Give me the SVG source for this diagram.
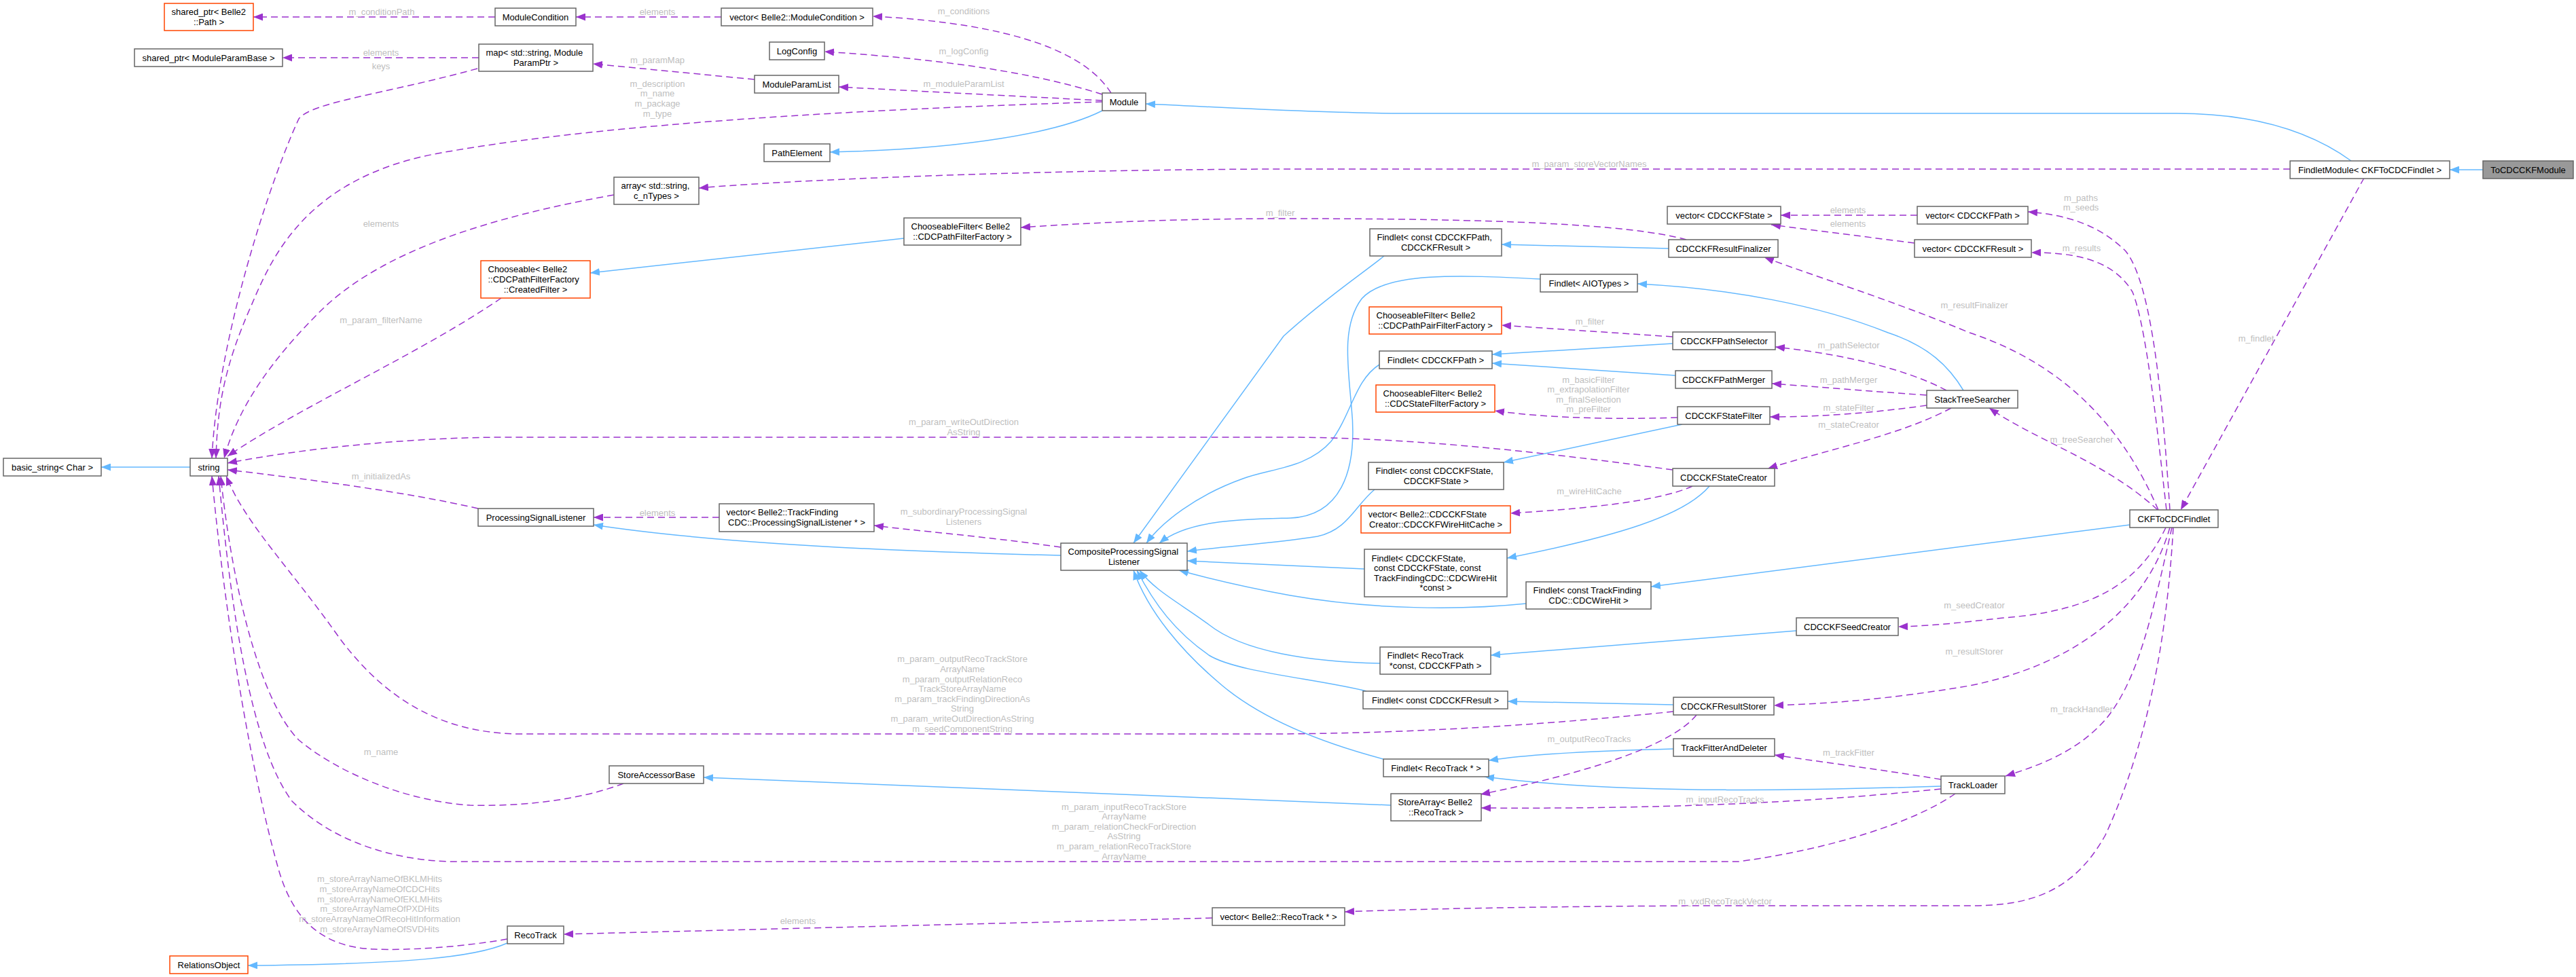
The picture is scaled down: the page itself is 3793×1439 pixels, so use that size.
<svg xmlns="http://www.w3.org/2000/svg" width="3793" height="1439" viewBox="0 0 3793 1439">
<style>
.node rect{fill:#fff;stroke:#666;stroke-width:1.5}
.node.o rect{stroke:#FF4500}
.node.g rect{fill:#999}
.node text{font-family:"Liberation Sans",Arial,Helvetica,sans-serif;font-size:13px;fill:#000}
.m{text-anchor:middle}
.s{text-anchor:start}
.inh{fill:none;stroke:#63B8FF;stroke-width:1.5;marker-end:url(#ab)}
.use{fill:none;stroke:#9A32CD;stroke-width:1.5;stroke-dasharray:10,6;marker-end:url(#ap)}
.lbl text{font-family:"Liberation Sans",Arial,Helvetica,sans-serif;font-size:13px;fill:#BEBEBE;text-anchor:middle}
</style>
<defs>
<marker id="ab" markerUnits="userSpaceOnUse" markerWidth="14" markerHeight="11" refX="14" refY="5.5" orient="auto" viewBox="0 0 14 11"><path d="M0,0 L14,5.5 L0,11 z" fill="#63B8FF"/></marker>
<marker id="ap" markerUnits="userSpaceOnUse" markerWidth="14" markerHeight="11" refX="14" refY="5.5" orient="auto" viewBox="0 0 14 11"><path d="M0,0 L14,5.5 L0,11 z" fill="#9A32CD"/></marker>
</defs>
<rect width="3793" height="1439" fill="#fff"/>
<g id="connectors">
<!-- inheritance -->
<path class="inh" d="M3656,250 L3607,250"/>
<path class="inh" d="M3462,237 C3390,185 3300,167 3205,167 L2064,167 C1950,167 1800,158 1687,153"/>
<path class="inh" d="M1623,163 C1560,195 1420,220 1222,224"/>
<path class="inh" d="M280,688 L149,688"/>
<path class="inh" d="M1331,351 L869,402"/>
<path class="inh" d="M1562,818 C1300,812 1050,800 874,773"/>
<path class="inh" d="M2048,1186 L1036,1145"/>
<path class="inh" d="M747,1389 C700,1410 600,1420 365,1422"/>
<path class="inh" d="M2038,377 C2010,400 1950,440 1890,495 L1669,800"/>
<path class="inh" d="M2457,366 L2211,360"/>
<path class="inh" d="M2268,411 C2150,405 2040,400 2005,440 C1975,480 1985,540 1990,600 C2000,700 1970,760 1900,763 C1830,765 1750,765 1707,800"/>
<path class="inh" d="M2031,537 C1995,560 1990,610 1960,650 C1925,690 1870,690 1830,705 C1760,730 1710,770 1688,800"/>
<path class="inh" d="M2024,721 C1995,745 1985,780 1940,790 C1880,800 1800,805 1748,812"/>
<path class="inh" d="M2009,838 C1900,833 1820,829 1748,826"/>
<path class="inh" d="M2247,889 C2150,899 2020,898 1900,877 C1840,866 1780,852 1736,840"/>
<path class="inh" d="M2032,977 C1930,975 1830,960 1780,920 C1740,890 1700,870 1678,840"/>
<path class="inh" d="M2012,1018 C1940,1000 1820,990 1780,965 C1730,930 1700,890 1674,840"/>
<path class="inh" d="M2037,1118 C1950,1095 1860,1060 1800,1010 C1740,960 1690,900 1669,840"/>
<path class="inh" d="M2463,506 L2197,522"/>
<path class="inh" d="M2467,553 L2197,535"/>
<path class="inh" d="M2477,625 L2214,681"/>
<path class="inh" d="M2517,716 C2480,760 2380,790 2219,822"/>
<path class="inh" d="M2891,575 C2870,540 2840,510 2780,490 C2680,450 2550,425 2411,418"/>
<path class="inh" d="M3136,773 L2431,864"/>
<path class="inh" d="M2645,929 L2195,965"/>
<path class="inh" d="M2464,1038 L2220,1033"/>
<path class="inh" d="M2464,1103 C2350,1106 2260,1110 2192,1120"/>
<path class="inh" d="M2858,1158 C2700,1163 2400,1172 2186,1144"/>
<!-- usage -->
<path class="use" d="M729,25 L373,25"/>
<path class="use" d="M1062,25 L848,25"/>
<path class="use" d="M1636,137 C1600,80 1500,35 1285,24"/>
<path class="use" d="M1623,139 C1500,100 1350,85 1214,76"/>
<path class="use" d="M1623,148 C1500,142 1350,134 1235,128"/>
<path class="use" d="M1111,117 L873,94"/>
<path class="use" d="M705,85 L416,85"/>
<path class="use" d="M703,101 C560,140 460,150 440,175 C400,260 320,500 312,675"/>
<path class="use" d="M1623,150 C1300,160 900,180 650,225 C450,260 400,380 370,450 C330,540 320,600 318,675"/>
<path class="use" d="M904,287 C720,320 560,370 470,460 C400,530 350,600 330,675"/>
<path class="use" d="M2483,353 C2400,330 2200,322 1900,322 C1700,322 1580,330 1503,335"/>
<path class="use" d="M738,439 C620,520 440,600 335,672"/>
<path class="use" d="M3372,249 L1900,249 C1600,249 1200,262 1029,277"/>
<path class="use" d="M3481,262 L3211,751"/>
<path class="use" d="M3195,751 C3185,600 3170,420 3130,370 C3090,330 3040,316 2986,312"/>
<path class="use" d="M3190,751 C3175,620 3160,480 3140,430 C3110,380 3050,372 2991,372"/>
<path class="use" d="M2823,317 L2622,317"/>
<path class="use" d="M2819,358 L2608,331"/>
<path class="use" d="M3178,751 C3130,640 3050,540 2900,490 C2780,440 2680,410 2598,379"/>
<path class="use" d="M3177,751 C3100,680 3000,650 2929,601"/>
<path class="use" d="M2866,575 C2800,540 2700,520 2614,511"/>
<path class="use" d="M2837,582 C2750,576 2680,570 2609,565"/>
<path class="use" d="M2837,597 C2760,608 2680,614 2606,614"/>
<path class="use" d="M2873,601 C2800,640 2700,660 2603,690"/>
<path class="use" d="M2463,496 L2211,479"/>
<path class="use" d="M2470,615 C2380,618 2280,616 2201,605"/>
<path class="use" d="M2492,716 C2440,740 2320,750 2224,756"/>
<path class="use" d="M2463,692 C2300,670 2100,645 1900,644 L735,644 C600,645 450,660 335,682"/>
<path class="use" d="M704,749 C600,725 450,705 335,692"/>
<path class="use" d="M1059,762 L874,762"/>
<path class="use" d="M1562,806 C1450,790 1350,782 1287,774"/>
<path class="use" d="M3189,777 C3150,860 3080,900 2950,910 C2880,918 2840,922 2795,923"/>
<path class="use" d="M3195,777 C3160,900 3050,980 2900,1010 C2780,1030 2700,1036 2612,1039"/>
<path class="use" d="M3198,777 C3170,900 3150,1000 3100,1060 C3060,1105 3010,1125 2953,1143"/>
<path class="use" d="M3200,777 C3190,950 3160,1100 3100,1230 C3050,1320 2980,1334 2900,1334 L2500,1334 C2300,1335 2100,1338 1980,1343"/>
<path class="use" d="M2464,1048 C2300,1065 2100,1080 1880,1081 L765,1081 C640,1080 560,1020 500,940 C430,840 360,770 333,701"/>
<path class="use" d="M2498,1053 C2460,1100 2330,1140 2180,1170"/>
<path class="use" d="M2858,1148 C2780,1135 2700,1125 2613,1112"/>
<path class="use" d="M2858,1162 C2700,1178 2500,1192 2181,1190"/>
<path class="use" d="M2879,1169 C2820,1210 2700,1250 2560,1269 L660,1269 C560,1265 480,1230 430,1180 C370,1100 340,900 322,701"/>
<path class="use" d="M918,1154 C850,1180 760,1188 692,1186 C600,1180 500,1140 440,1090 C380,1030 340,850 325,701"/>
<path class="use" d="M747,1383 C680,1395 600,1400 551,1398 C470,1395 430,1350 410,1280 C370,1140 330,900 312,701"/>
<path class="use" d="M1785,1352 L830,1376"/>
<g class="lbl">
<text x="562" y="21.5">m_conditionPath</text>
<text x="968" y="21.5">elements</text>
<text x="1419" y="20.5">m_conditions</text>
<text x="1419" y="79.5">m_logConfig</text>
<text x="1419" y="127.5">m_moduleParamList</text>
<text x="968" y="92.5">m_paramMap</text>
<text x="561" y="81.5">elements</text>
<text x="561" y="101.5">keys</text>
<text x="968" y="127.5">m_description</text>
<text x="968" y="141.5">m_name</text>
<text x="968" y="156.5">m_package</text>
<text x="968" y="171.5">m_type</text>
<text x="561" y="333.5">elements</text>
<text x="1885" y="317.5">m_filter</text>
<text x="561" y="475.5">m_param_filterName</text>
<text x="2340" y="245.5">m_param_storeVectorNames</text>
<text x="3322" y="502.5">m_findlet</text>
<text x="3064" y="295.5">m_paths</text>
<text x="3064" y="309.5">m_seeds</text>
<text x="3065" y="369.5">m_results</text>
<text x="2721" y="313.5">elements</text>
<text x="2721" y="333.5">elements</text>
<text x="2907" y="453.5">m_resultFinalizer</text>
<text x="3065" y="651.5">m_treeSearcher</text>
<text x="2722" y="512.5">m_pathSelector</text>
<text x="2722" y="563.5">m_pathMerger</text>
<text x="2722" y="604.5">m_stateFilter</text>
<text x="2722" y="629.5">m_stateCreator</text>
<text x="2341" y="477.5">m_filter</text>
<text x="2339" y="563.5">m_basicFilter</text>
<text x="2339" y="577.5">m_extrapolationFilter</text>
<text x="2339" y="592.5">m_finalSelection</text>
<text x="2339" y="606.5">m_preFilter</text>
<text x="2340" y="727.5">m_wireHitCache</text>
<text x="1419" y="625.5">m_param_writeOutDirection</text>
<text x="1419" y="640.5">AsString</text>
<text x="561" y="705.5">m_initializedAs</text>
<text x="968" y="759.5">elements</text>
<text x="1419" y="757.5">m_subordinaryProcessingSignal</text>
<text x="1419" y="772.5">Listeners</text>
<text x="2907" y="895.5">m_seedCreator</text>
<text x="2907" y="963.5">m_resultStorer</text>
<text x="3065" y="1048.5">m_trackHandler</text>
<text x="2540" y="1331.5">m_vxdRecoTrackVector</text>
<text x="1417" y="974.5">m_param_outputRecoTrackStore</text>
<text x="1417" y="989.5">ArrayName</text>
<text x="1417" y="1004.5">m_param_outputRelationReco</text>
<text x="1417" y="1018.5">TrackStoreArrayName</text>
<text x="1417" y="1033.5">m_param_trackFindingDirectionAs</text>
<text x="1417" y="1047.5">String</text>
<text x="1417" y="1062.5">m_param_writeOutDirectionAsString</text>
<text x="1417" y="1077.5">m_seedComponentString</text>
<text x="2340" y="1092.5">m_outputRecoTracks</text>
<text x="2722" y="1112.5">m_trackFitter</text>
<text x="2540" y="1181.5">m_inputRecoTracks</text>
<text x="1655" y="1192.5">m_param_inputRecoTrackStore</text>
<text x="1655" y="1206.5">ArrayName</text>
<text x="1655" y="1221.5">m_param_relationCheckForDirection</text>
<text x="1655" y="1235.5">AsString</text>
<text x="1655" y="1250.5">m_param_relationRecoTrackStore</text>
<text x="1655" y="1265.5">ArrayName</text>
<text x="561" y="1111.5">m_name</text>
<text x="559" y="1298.5">m_storeArrayNameOfBKLMHits</text>
<text x="559" y="1313.5">m_storeArrayNameOfCDCHits</text>
<text x="559" y="1328.5">m_storeArrayNameOfEKLMHits</text>
<text x="559" y="1342.5">m_storeArrayNameOfPXDHits</text>
<text x="559" y="1357.5">m_storeArrayNameOfRecoHitInformation</text>
<text x="559" y="1372.5">m_storeArrayNameOfSVDHits</text>
<text x="1175" y="1360.5">elements</text>
</g>
</g>
<g id="n_sp_path" class="node o"><rect x="242" y="5" width="131" height="40"/><text class="s" x="252.5" y="22.2">shared_ptr&lt; Belle2</text><text class="m" x="307.5" y="36.8">::Path &gt;</text></g>
<g id="n_modcond" class="node"><rect x="729" y="12" width="119" height="26"/><text class="m" x="788.5" y="29.5">ModuleCondition</text></g>
<g id="n_sp_mpb" class="node"><rect x="198" y="72" width="218" height="26"/><text class="m" x="307" y="89.5">shared_ptr&lt; ModuleParamBase &gt;</text></g>
<g id="n_map" class="node"><rect x="705" y="65" width="168" height="40"/><text class="s" x="715.5" y="82.2">map&lt; std::string, Module</text><text class="m" x="789" y="96.8">ParamPtr &gt;</text></g>
<g id="n_vecmodcond" class="node"><rect x="1062" y="12" width="223" height="26"/><text class="m" x="1173.5" y="29.5">vector&lt; Belle2::ModuleCondition &gt;</text></g>
<g id="n_logconfig" class="node"><rect x="1133" y="62" width="81" height="26"/><text class="m" x="1173.5" y="79.5">LogConfig</text></g>
<g id="n_mpl" class="node"><rect x="1111" y="111" width="124" height="26"/><text class="m" x="1173" y="128.5">ModuleParamList</text></g>
<g id="n_module" class="node"><rect x="1623" y="137" width="64" height="26"/><text class="m" x="1655" y="154.5">Module</text></g>
<g id="n_pathelement" class="node"><rect x="1125" y="212" width="97" height="26"/><text class="m" x="1173.5" y="229.5">PathElement</text></g>
<g id="n_array" class="node"><rect x="904" y="261" width="125" height="40"/><text class="s" x="914.5" y="278.2">array&lt; std::string,</text><text class="m" x="966.5" y="292.8">c_nTypes &gt;</text></g>
<g id="n_chooseable" class="node o"><rect x="708" y="384" width="161" height="55"/><text class="s" x="718.5" y="401.4">Chooseable&lt; Belle2</text><text class="s" x="718.5" y="416">::CDCPathFilterFactory</text><text class="m" x="788.5" y="430.6">::CreatedFilter &gt;</text></g>
<g id="n_cf_path" class="node"><rect x="1331" y="321" width="172" height="40"/><text class="s" x="1341.5" y="338.2">ChooseableFilter&lt; Belle2</text><text class="m" x="1417" y="352.8">::CDCPathFilterFactory &gt;</text></g>
<g id="n_basic_string" class="node"><rect x="5" y="675" width="144" height="26"/><text class="m" x="77" y="692.5">basic_string&lt; Char &gt;</text></g>
<g id="n_string" class="node"><rect x="280" y="675" width="55" height="26"/><text class="m" x="307.5" y="692.5">string</text></g>
<g id="n_psl" class="node"><rect x="704" y="749" width="170" height="26"/><text class="m" x="789" y="766.5">ProcessingSignalListener</text></g>
<g id="n_vecpsl" class="node"><rect x="1059" y="742" width="228" height="41"/><text class="s" x="1069.5" y="759.2">vector&lt; Belle2::TrackFinding</text><text class="m" x="1173" y="773.8">CDC::ProcessingSignalListener * &gt;</text></g>
<g id="n_composite" class="node"><rect x="1562" y="800" width="186" height="40"/><text class="s" x="1572.5" y="817.2">CompositeProcessingSignal</text><text class="m" x="1655" y="831.8">Listener</text></g>
<g id="n_storeaccessor" class="node"><rect x="897" y="1128" width="139" height="26"/><text class="m" x="966.5" y="1145.5">StoreAccessorBase</text></g>
<g id="n_recotrack" class="node"><rect x="747" y="1364" width="83" height="26"/><text class="m" x="788.5" y="1381.5">RecoTrack</text></g>
<g id="n_relations" class="node o"><rect x="250" y="1408" width="115" height="26"/><text class="m" x="307.5" y="1425.5">RelationsObject</text></g>
<g id="n_vecreco" class="node"><rect x="1785" y="1337" width="195" height="26"/><text class="m" x="1882.5" y="1354.5">vector&lt; Belle2::RecoTrack * &gt;</text></g>
<g id="n_findlet_path_result" class="node"><rect x="2017" y="337" width="194" height="40"/><text class="s" x="2027.5" y="354.2">Findlet&lt; const CDCCKFPath,</text><text class="m" x="2114" y="368.8">CDCCKFResult &gt;</text></g>
<g id="n_vecstate" class="node"><rect x="2455" y="304" width="167" height="26"/><text class="m" x="2538.5" y="321.5">vector&lt; CDCCKFState &gt;</text></g>
<g id="n_resultfinalizer" class="node"><rect x="2457" y="353" width="161" height="26"/><text class="m" x="2537.5" y="370.5">CDCCKFResultFinalizer</text></g>
<g id="n_findlet_aio" class="node"><rect x="2268" y="404" width="143" height="26"/><text class="m" x="2339.5" y="421.5">Findlet&lt; AIOTypes &gt;</text></g>
<g id="n_cf_pathpair" class="node o"><rect x="2016" y="452" width="195" height="40"/><text class="s" x="2026.5" y="469.2">ChooseableFilter&lt; Belle2</text><text class="m" x="2113.5" y="483.8">::CDCPathPairFilterFactory &gt;</text></g>
<g id="n_vecpath" class="node"><rect x="2823" y="304" width="163" height="26"/><text class="m" x="2904.5" y="321.5">vector&lt; CDCCKFPath &gt;</text></g>
<g id="n_vecresult" class="node"><rect x="2819" y="353" width="172" height="26"/><text class="m" x="2905" y="370.5">vector&lt; CDCCKFResult &gt;</text></g>
<g id="n_findletmodule" class="node"><rect x="3372" y="237" width="235" height="26"/><text class="m" x="3489.5" y="254.5">FindletModule&lt; CKFToCDCFindlet &gt;</text></g>
<g id="n_tocdc" class="node g"><rect x="3656" y="237" width="133" height="26"/><text class="m" x="3722.5" y="254.5">ToCDCCKFModule</text></g>
<g id="n_pathselector" class="node"><rect x="2463" y="489" width="151" height="26"/><text class="m" x="2538.5" y="506.5">CDCCKFPathSelector</text></g>
<g id="n_findlet_path" class="node"><rect x="2031" y="517" width="166" height="26"/><text class="m" x="2114" y="534.5">Findlet&lt; CDCCKFPath &gt;</text></g>
<g id="n_pathmerger" class="node"><rect x="2467" y="546" width="142" height="26"/><text class="m" x="2538" y="563.5">CDCCKFPathMerger</text></g>
<g id="n_cf_state" class="node o"><rect x="2026" y="567" width="175" height="40"/><text class="s" x="2036.5" y="584.2">ChooseableFilter&lt; Belle2</text><text class="m" x="2113.5" y="598.8">::CDCStateFilterFactory &gt;</text></g>
<g id="n_statefilter" class="node"><rect x="2470" y="599" width="136" height="26"/><text class="m" x="2538" y="616.5">CDCCKFStateFilter</text></g>
<g id="n_findlet_state" class="node"><rect x="2015" y="681" width="199" height="40"/><text class="s" x="2025.5" y="698.2">Findlet&lt; const CDCCKFState,</text><text class="m" x="2114.5" y="712.8">CDCCKFState &gt;</text></g>
<g id="n_statecreator" class="node"><rect x="2463" y="690" width="150" height="26"/><text class="m" x="2538" y="707.5">CDCCKFStateCreator</text></g>
<g id="n_vecwirehit" class="node o"><rect x="2004" y="745" width="220" height="40"/><text class="s" x="2014.5" y="762.2">vector&lt; Belle2::CDCCKFState</text><text class="m" x="2114" y="776.8">Creator::CDCCKFWireHitCache &gt;</text></g>
<g id="n_findlet_wire3" class="node"><rect x="2009" y="809" width="210" height="70"/><text class="s" x="2019.5" y="826.6">Findlet&lt; CDCCKFState,</text><text class="s" x="2023" y="841.2">const CDCCKFState, const</text><text class="s" x="2023" y="855.8">TrackFindingCDC::CDCWireHit</text><text class="m" x="2114" y="870.4">*const &gt;</text></g>
<g id="n_findlet_wirehit" class="node"><rect x="2247" y="857" width="184" height="40"/><text class="s" x="2257.5" y="874.2">Findlet&lt; const TrackFinding</text><text class="m" x="2339" y="888.8">CDC::CDCWireHit &gt;</text></g>
<g id="n_seedcreator" class="node"><rect x="2645" y="910" width="150" height="26"/><text class="m" x="2720" y="927.5">CDCCKFSeedCreator</text></g>
<g id="n_findlet_reco_path" class="node"><rect x="2032" y="953" width="163" height="40"/><text class="s" x="2042.5" y="970.2">Findlet&lt; RecoTrack</text><text class="m" x="2113.5" y="984.8">*const, CDCCKFPath &gt;</text></g>
<g id="n_findlet_result" class="node"><rect x="2007" y="1018" width="213" height="26"/><text class="m" x="2113.5" y="1035.5">Findlet&lt; const CDCCKFResult &gt;</text></g>
<g id="n_resultstorer" class="node"><rect x="2464" y="1027" width="148" height="26"/><text class="m" x="2538" y="1044.5">CDCCKFResultStorer</text></g>
<g id="n_trackfitter" class="node"><rect x="2464" y="1088" width="149" height="26"/><text class="m" x="2538.5" y="1105.5">TrackFitterAndDeleter</text></g>
<g id="n_findlet_reco" class="node"><rect x="2037" y="1118" width="155" height="26"/><text class="m" x="2114.5" y="1135.5">Findlet&lt; RecoTrack * &gt;</text></g>
<g id="n_storearray" class="node"><rect x="2048" y="1169" width="133" height="40"/><text class="s" x="2058.5" y="1186.2">StoreArray&lt; Belle2</text><text class="m" x="2114.5" y="1200.8">::RecoTrack &gt;</text></g>
<g id="n_stacktree" class="node"><rect x="2837" y="575" width="134" height="26"/><text class="m" x="2904" y="592.5">StackTreeSearcher</text></g>
<g id="n_ckftocdc" class="node"><rect x="3136" y="751" width="130" height="26"/><text class="m" x="3201" y="768.5">CKFToCDCFindlet</text></g>
<g id="n_trackloader" class="node"><rect x="2858" y="1143" width="94" height="26"/><text class="m" x="2905" y="1160.5">TrackLoader</text></g>
</svg>
